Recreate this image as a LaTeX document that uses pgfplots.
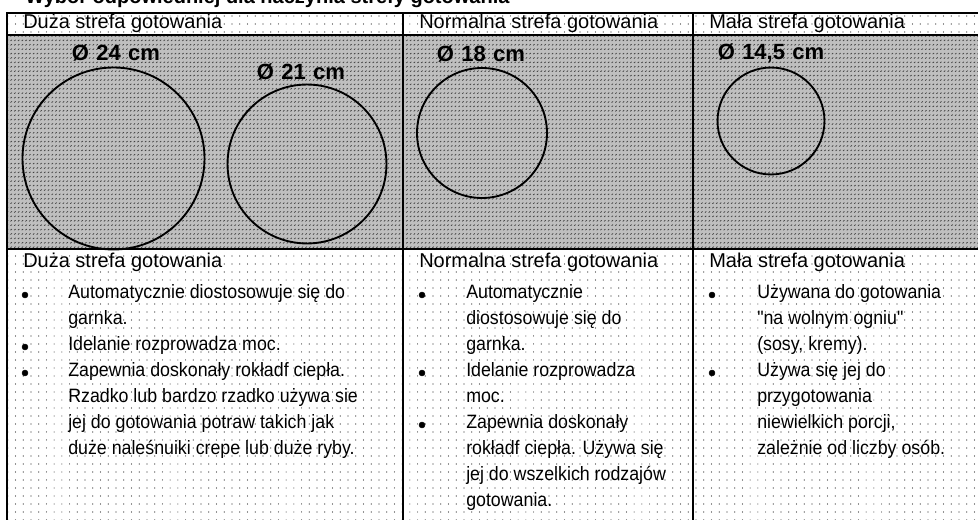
\documentclass[border=0pt]{standalone}
\usepackage{fontspec}
\setmainfont{Liberation Sans}
\newfontfamily\bodyfont[FakeStretch=0.92]{Liberation Sans}
\usepackage{pgfplots}
\usepackage{pgfplotstable}
\pgfplotsset{compat=1.18}
\usetikzlibrary{patterns}

\pgfdeclarepatternformonly{sparsedots}{\pgfqpoint{-0.6pt}{-0.6pt}}{\pgfqpoint{0.6pt}{0.6pt}}{\pgfqpoint{5.8pt}{6pt}}{%
  \pgfpathcircle{\pgfpointorigin}{0.45pt}\pgfusepath{fill}}
\pgfdeclarepatternformonly{densedots}{\pgfqpoint{-1pt}{-1pt}}{\pgfqpoint{1pt}{1pt}}{\pgfqpoint{2.8pt}{3.3pt}}{%
  \pgfpathellipse{\pgfpointorigin}{\pgfqpoint{0.75pt}{0.3pt}}{\pgfqpoint{0.25pt}{0.6pt}}\pgfusepath{fill}}

\pgfplotstableread{
x   y
25  295
25  347
25  373
422 295
422 373
422 425
712 295
712 373
}\bullets

\newcommand{\hd}[3]{\node[anchor=mid west,inner sep=0pt,font=\fontsize{15}{18}\selectfont] at (axis cs:#1,#2) {#3};}
\newcommand{\tl}[3]{\node[anchor=mid west,inner sep=0pt,font=\bodyfont\fontsize{14.5}{17}\selectfont] at (axis cs:#1,#2) {#3};}
\newcommand{\dl}[3]{\node[anchor=center,inner sep=0pt,font=\bfseries\fontsize{16.5}{19}\selectfont] at (axis cs:#1,#2) {#3};}

\begin{document}
\begin{tikzpicture}
\useasboundingbox (0,0) rectangle (733.5pt,390pt);
\clip (0,0) rectangle (733.5pt,390pt);
\begin{axis}[
  at={(0,0)}, anchor=south west,
  scale only axis, width=733.5pt, height=390pt,
  xmin=0, xmax=978, ymin=0, ymax=520, y dir=reverse,
  hide axis, clip=false]
% backgrounds
\addplot[draw=none, pattern=sparsedots, pattern color=black!85] coordinates {(7,13) (978,13) (978,35) (7,35)} -- cycle;
\addplot[draw=none, pattern=sparsedots, pattern color=black!85] coordinates {(7,249) (978,249) (978,520) (7,520)} -- cycle;
\addplot[draw=none, fill=black!25] coordinates {(7,35) (978,35) (978,249) (7,249)} -- cycle;
\addplot[draw=none, pattern=densedots, pattern color=black!75] coordinates {(7,35) (978,35) (978,249) (7,249)} -- cycle;
% rules
\addplot[black, line width=1pt] coordinates {(7,13) (978,13)};
\addplot[black, line width=1pt] coordinates {(7,35) (978,35)};
\addplot[black, line width=1pt] coordinates {(7,249) (978,249)};
\addplot[black, line width=1.5pt] coordinates {(7,12.5) (7,520)};
\addplot[black, line width=1.5pt] coordinates {(403,12.5) (403,520)};
\addplot[black, line width=1.5pt] coordinates {(693,12.5) (693,520)};
% circles (centre in px; radius in pt, 1 px = 0.75 pt)
\addplot[only marks, mark=o, mark size=68.25pt, mark options={line width=1.4pt, black}] coordinates {(113.5,158.5)}; % 24 cm
\addplot[only marks, mark=o, mark size=59.6pt, mark options={line width=1.4pt, black}] coordinates {(307,164)}; % 21 cm
\addplot[only marks, mark=o, mark size=48.75pt, mark options={line width=1.4pt, black}] coordinates {(482,133)}; % 18 cm
\addplot[only marks, mark=o, mark size=40.1pt, mark options={line width=1.4pt, black}] coordinates {(771,121)}; % 14,5 cm
% bullets
\addplot[only marks, mark=*, mark size=2.2pt, black] table[x=x, y=y]{\bullets};
% title (cut off at the top, as in the scan)
\node[anchor=base west, inner sep=0pt, font=\bfseries\fontsize{15}{18}\selectfont] at (axis cs:25,4) {Wybór odpowiedniej dla naczynia strefy gotowania};
% top headers
\hd{23}{25}{Duża strefa gotowania}
\hd{419}{25}{Normalna strefa gotowania}
\hd{709}{25}{Mała strefa gotowania}
% diameters
\dl{116}{53}{Ø\,\,24\,\,cm}
\dl{301}{72}{Ø\,\,21\,\,cm}
\dl{481}{54}{Ø\,\,18\,\,cm}
\dl{771}{53}{Ø\,\,14,5\,\,cm}
% bottom headers
\hd{23}{264}{Duża strefa gotowania}
\hd{419}{264}{Normalna strefa gotowania}
\hd{709}{264}{Mała strefa gotowania}
% column 1
\tl{68}{295}{Automatycznie diostosowuje się do}
\tl{68}{321}{garnka.}
\tl{68}{347}{Idelanie rozprowadza moc.}
\tl{68}{373}{Zapewnia doskonały rokładf ciepła.}
\tl{68}{399}{Rzadko lub bardzo rzadko używa sie}
\tl{68}{425}{jej do gotowania potraw takich jak}
\tl{68}{451}{duże naleśnuiki crepe lub duże ryby.}
% column 2
\tl{466}{295}{Automatycznie}
\tl{466}{321}{diostosowuje się do}
\tl{466}{347}{garnka.}
\tl{466}{373}{Idelanie rozprowadza}
\tl{466}{399}{moc.}
\tl{466}{425}{Zapewnia doskonały}
\tl{466}{451}{rokładf ciepła. Używa się}
\tl{466}{477}{jej do wszelkich rodzajów}
\tl{466}{503}{gotowania.}
% column 3
\tl{757}{295}{Używana do gotowania}
\tl{757}{321}{"na wolnym ogniu"}
\tl{757}{347}{(sosy, kremy).}
\tl{757}{373}{Używa się jej do}
\tl{757}{399}{przygotowania}
\tl{757}{425}{niewielkich porcji,}
\tl{757}{451}{zależnie od liczby osób.}
\end{axis}
\end{tikzpicture}
\end{document}
